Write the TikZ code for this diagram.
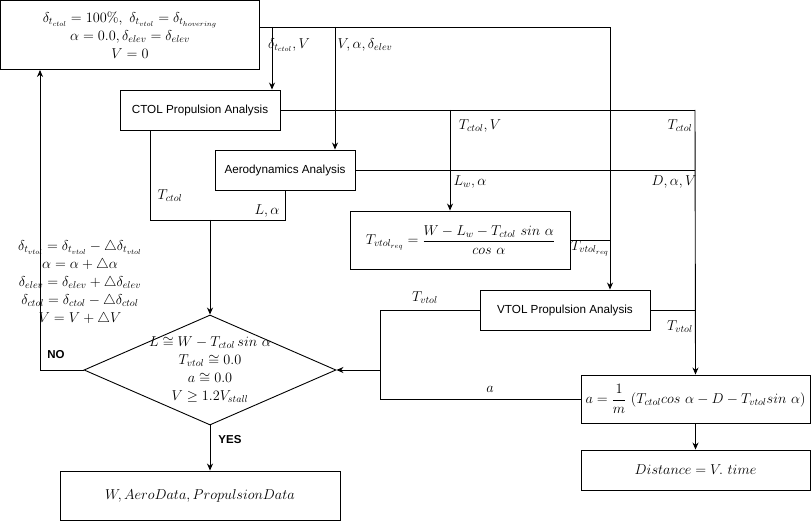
\RequirePackage{fix-cm}
\documentclass[tikz,border=0pt]{standalone}
\usepackage{amsmath}
\usepackage{fontspec}
\setsansfont{Liberation Sans}
\usetikzlibrary{arrows.meta, shapes.geometric}

\begin{document}
\begin{tikzpicture}[
            x = 1pt, y = -1pt, % one unit per pixel of the sketch
            > = {Stealth[length=7pt, width=6pt]}, % arrow head style
            line width = 0.9pt,
        ]

        \tikzstyle{block}=[
            draw,
            rectangle,
            inner sep = 0pt,
            font = \fontsize{14.3}{18}\selectfont
        ]
        \tikzstyle{tool}=[
            draw,
            rectangle,
            inner sep = 0pt,
            font = \sffamily\fontsize{11.7}{13}\selectfont
        ]
        \tikzstyle{lbl}=[
            inner sep = 0pt,
            font = \fontsize{14.3}{18}\selectfont
        ]
        \tikzstyle{answer}=[
            inner sep = 0pt,
            font = \sffamily\bfseries\fontsize{11.5}{13}\selectfont
        ]

        \useasboundingbox (0,0) rectangle (811,521);

        % blocks
        \node[block, minimum width=259pt, minimum height=69pt, align=center] (init) at (130,35)
            {$\delta_{t_{ctol}} = 100\%,\ \delta_{t_{vtol}} = \delta_{t_{hovering}}$\\
             $\alpha = 0.0, \delta_{elev} = \delta_{elev}$\\ $V = 0$};
        \node[tool, minimum width=160pt, minimum height=40pt] (ctol) at (200,110) {CTOL Propulsion Analysis};
        \node[tool, minimum width=140pt, minimum height=40pt] (aero) at (285,170) {Aerodynamics Analysis};
        \node[block, minimum width=220pt, minimum height=58pt] (treq) at (460.5,240)
            {$T_{vtol_{req}} = \dfrac{W - L_w - T_{ctol}\ sin\ \alpha}{cos\ \alpha}$};
        \node[tool, minimum width=170pt, minimum height=40pt] (vtol) at (565,310) {VTOL Propulsion Analysis};
        \node[block, minimum width=229pt, minimum height=48pt] (accel) at (695.5,399)
            {$a = \dfrac{1}{m}\ (T_{ctol} cos\ \alpha - D - T_{vtol} sin\ \alpha)$};
        \node[block, minimum width=229pt, minimum height=40pt] (dist) at (695.5,470) {$Distance = V.\ time$};
        \node[draw, diamond, minimum width=252pt, minimum height=110pt, inner sep=0pt] (check) at (210,370) {};
        \node[lbl, align=center] (checktxt) at (check)
            {$L \cong W - T_{ctol}\, sin\ \alpha$\\ $T_{vtol} \cong 0.0$\\ $a \cong 0.0$\\ $V \geq 1.2 V_{stall}$};
        \node[block, minimum width=280pt, minimum height=49pt] (result) at (200,495.5) {$W, AeroData, PropulsionData$};

        % junctions
        \coordinate (bus) at ([yshift=8pt]init.east);
        \coordinate (tapA) at (272,27);
        \coordinate (tapB) at (335,27);
        \coordinate (tapC) at (450,110);
        \coordinate (right) at (695,110);
        \coordinate (vtolin) at ([xshift=45pt]vtol.north);
        \coordinate (left) at (380,370);
        \coordinate (merge) at (210,220);
        \coordinate (back) at (40,370);

        % connectors
        \draw[->] (bus) -| (vtolin);
        \draw[->] (tapA) -- (tapA |- ctol.north);
        \draw[->] (tapB) -- (tapB |- aero.north);
        \draw (ctol.east) -- (right);
        \draw[->] (right) -- (accel.north);
        \draw[->] (tapC) -- (tapC |- treq.north);
        \draw (aero.east) -- (aero.east -| right);
        \draw (treq.east) -- (treq.east -| vtolin);
        \draw (vtol.east) -- (vtol.east -| right);
        \draw[->] (vtol.west) -| (left) -- (check.east);
        \draw (accel.west) -| (left);
        \draw ([xshift=-50pt]ctol.south) |- (merge);
        \draw (aero.south) |- (merge);
        \draw[->] (merge) -- (check.north);
        \draw[->] (check.south) -- (check.south |- result.north);
        \draw[->] (check.west) -- (back) -- (back |- init.south);
        \draw[->] (accel.south) -- (dist.north);

        % labels
        \node[lbl] (ldctol) at (289,45) {$\delta_{t_{ctol}}, V$};
        \node[lbl] (lvad) at (365,45) {$V, \alpha, \delta_{elev}$};
        \node[lbl] (ltv) at (480,126) {$T_{ctol}, V$};
        \node[lbl] (ltr) at (680,126) {$T_{ctol}$};
        \node[lbl] (llw) at (470,182) {$L_w, \alpha$};
        \node[lbl] (ldav) at (674,182) {$D, \alpha, V$};
        \node[lbl] (lreq) at (590,248) {$T_{vtol_{req}}$};
        \node[lbl] (ltc) at (170,196) {$T_{ctol}$};
        \node[lbl] (lla) at (267,211) {$L, \alpha$};
        \node[lbl] (ltvl) at (425,298) {$T_{vtol}$};
        \node[lbl] (ltvr) at (680,327) {$T_{vtol}$};
        \node[lbl] (la) at (490,389) {$a$};
        \node[lbl, align=center] (update) at (80,283)
            {$\delta_{t_{vtol}} = \delta_{t_{vtol}} - \triangle\delta_{t_{vtol}}$\\
             $\alpha = \alpha + \triangle\alpha$\\
             $\delta_{elev} = \delta_{elev} + \triangle\delta_{elev}$\\
             $\delta_{ctol} = \delta_{ctol} - \triangle\delta_{ctol}$\\
             $V = V + \triangle V$};
        \node[answer] (lno) at (56,355) {NO};
        \node[answer] (lyes) at (230,440) {YES};
    \end{tikzpicture}
\end{document}
